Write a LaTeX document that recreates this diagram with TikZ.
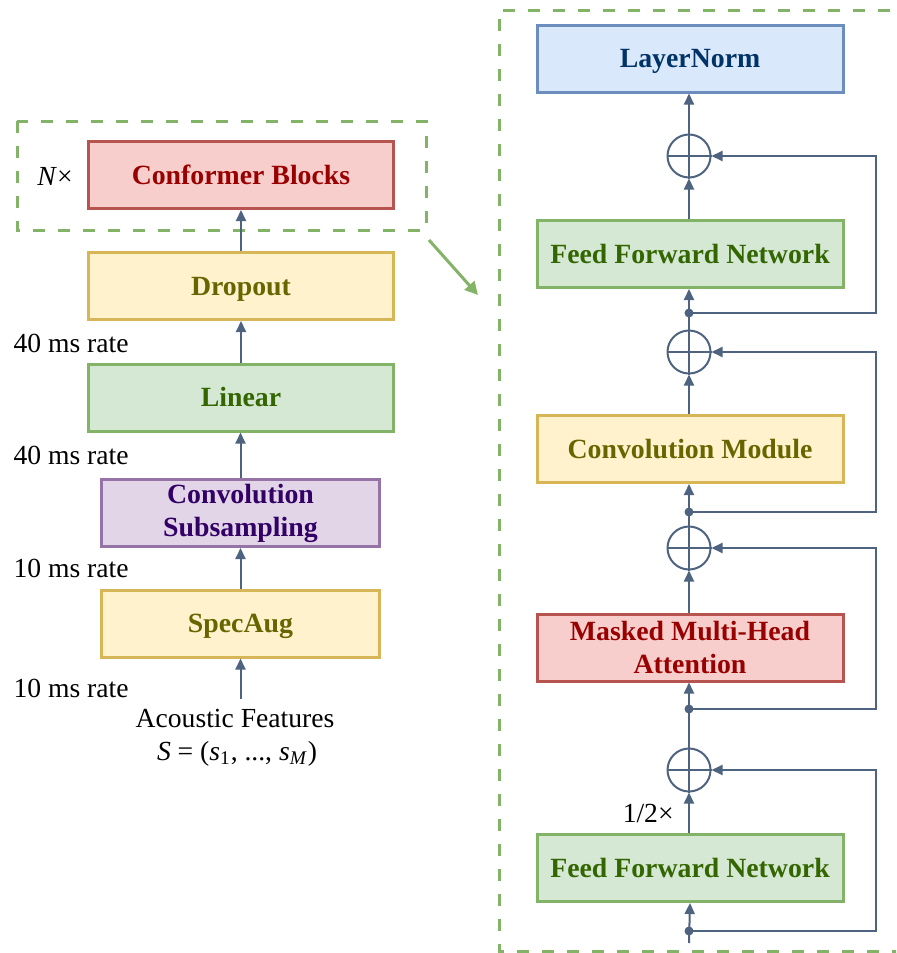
\documentclass[tikz,border=0pt]{standalone}
\usepackage{fontspec}
\setmainfont{Liberation Serif}
\usetikzlibrary{arrows.meta}
\definecolor{arr}{HTML}{4D6380}
\definecolor{dgreen}{HTML}{82B366}
\definecolor{redfill}{HTML}{F8CECC}\definecolor{redline}{HTML}{B85450}\definecolor{redtext}{HTML}{990000}
\definecolor{yelfill}{HTML}{FFF2CC}\definecolor{yelline}{HTML}{D6B656}\definecolor{yeltext}{HTML}{666600}
\definecolor{grnfill}{HTML}{D5E8D4}\definecolor{grnline}{HTML}{82B366}\definecolor{grntext}{HTML}{336600}
\definecolor{purfill}{HTML}{E1D5E7}\definecolor{purline}{HTML}{9673A6}\definecolor{purtext}{HTML}{330066}
\definecolor{blufill}{HTML}{DAE8FC}\definecolor{bluline}{HTML}{6C8EBF}\definecolor{blutext}{HTML}{003366}
\begin{document}
\begin{tikzpicture}[x=0.5pt,y=-0.5pt,
  box/.style={draw, line width=1.5pt, inner sep=0pt, align=center,
    minimum height=33.5pt, font=\fontsize{13.9}{16.5}\selectfont\bfseries},
  one/.style={text height=10pt, text depth=0.8pt},
  wide/.style={minimum width=152.5pt},
  narrow/.style={minimum width=139pt},
  rwide/.style={minimum width=153pt},
  redbox/.style={box, fill=redfill, draw=redline, text=redtext},
  yelbox/.style={box, fill=yelfill, draw=yelline, text=yeltext},
  grnbox/.style={box, fill=grnfill, draw=grnline, text=grntext},
  purbox/.style={box, fill=purfill, draw=purline, text=purtext},
  blubox/.style={box, fill=blufill, draw=bluline, text=blutext},
  lbl/.style={font=\fontsize{13.8}{16}\selectfont, inner sep=0pt},
  arw/.style={draw=arr, line width=1pt, -{Triangle[length=5.5pt,width=5pt]}},
  plain/.style={draw=arr, line width=1pt},
  oplus/.style={circle, draw=arr, line width=1pt, minimum size=21.5pt, inner sep=0pt},
  dashbox/.style={draw=dgreen, line width=1.5pt, dash pattern=on 6pt off 6.5pt}
]
\useasboundingbox (0,0) rectangle (896,953);

% ---------------- left column ----------------
\draw[dashbox] (17,121) rectangle (426,230);
\node[redbox, wide, one] (conf) at (241,175) {Conformer Blocks};
\node[lbl] (nx) at (55,176) {\textit{N}×};
\node[yelbox, wide, one] (drop) at (241,286) {Dropout};
\node[grnbox, wide, one] (lin) at (241,397.5) {Linear};
\node[purbox, narrow] (csub) at (240.5,513) {Convolution\\Subsampling};
\node[yelbox, narrow, one] (spec) at (240.5,623.5) {SpecAug};

\node[lbl, anchor=east] (r1) at (129,343) {40 ms rate};
\node[lbl, anchor=east] (r2) at (129,455) {40 ms rate};
\node[lbl, anchor=east] (r3) at (129,568) {10 ms rate};
\node[lbl, anchor=east] (r4) at (129,688) {10 ms rate};

\node[lbl] (feat) at (235,718) {Acoustic Features};
\node[lbl] (seq) at (237,754) {\textit{S} = (\textit{s}\textsubscript{1}, ..., \textit{s}\textsubscript{\textit{M}})};
\coordinate (fin) at (240.5,699);

\draw[arw] (fin) -- (spec.south);
\draw[arw] (spec.north) -- (csub.south);
\draw[arw] (csub.north) -- (csub.north |- lin.south);
\draw[arw] (lin.north) -- (drop.south);
\draw[arw] (drop.north) -- (conf.south);

% zoom arrow
\coordinate (zs) at (429,240);
\coordinate (ze) at (478,295);
\draw[draw=dgreen, line width=1.5pt, -{Triangle[length=6.5pt,width=6.5pt]}] (zs) -- (ze);

% ---------------- right panel ----------------
\begin{scope}
\clip (0,0) rectangle (896,953);
\draw[dashbox] (940,10) -- (499,10) -- (499,951) -- (940,951);
\end{scope}

\node[blubox, rwide, one] (ln) at (690,58.5) {LayerNorm};
\node[grnbox, rwide, one] (ffa) at (690,254) {Feed Forward Network};
\node[yelbox, rwide, one] (cm) at (690,449) {Convolution Module};
\node[redbox, rwide] (mha) at (690,647.5) {Masked Multi-Head\\Attention};
\node[grnbox, rwide, one] (ffb) at (690,868) {Feed Forward Network};

\node[oplus] (p1) at (689,156) {};
\node[oplus] (p2) at (689,352) {};
\node[oplus] (p3) at (689,548) {};
\node[oplus] (p4) at (689,770) {};
\foreach \p in {p1,p2,p3,p4}{
  \draw[plain] (\p.north) -- (\p.south) (\p.west) -- (\p.east);
}

\coordinate (d1) at (689,313);
\coordinate (d2) at (689,512);
\coordinate (d3) at (689,709);
\coordinate (d4) at (689,931);
\coordinate (rin) at (689,943);
\coordinate (rx) at (876,0);

\node[lbl, anchor=east] (half) at (674,813) {1/2×};

% main path
\draw[arw] (rin) -- (ffb.south);
\draw[arw] (ffb.north -| p4) -- (p4.south);
\draw[arw] (p4.north) -- (mha.south -| p4);
\draw[arw] (mha.north -| p3) -- (p3.south);
\draw[arw] (p3.north) -- (cm.south -| p3);
\draw[arw] (cm.north -| p2) -- (p2.south);
\draw[arw] (p2.north) -- (ffa.south -| p2);
\draw[arw] (ffa.north -| p1) -- (p1.south);
\draw[arw] (p1.north) -- (ln.south -| p1);

% residual connections
\draw[arw] (d4) -- (d4 -| rx) |- (p4.east);
\draw[arw] (d3) -- (d3 -| rx) |- (p3.east);
\draw[arw] (d2) -- (d2 -| rx) |- (p2.east);
\draw[arw] (d1) -- (d1 -| rx) |- (p1.east);
\foreach \d in {d1,d2,d3,d4}{
  \fill[arr] (\d) circle (4.5);
}
\end{tikzpicture}
\end{document}
